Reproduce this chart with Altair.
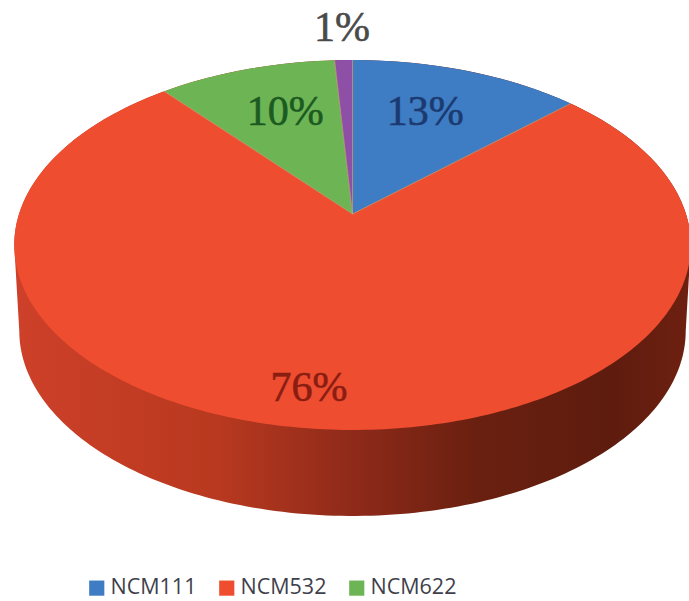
import numpy as np
import pandas as pd
import altair as alt

# Pie shares, clockwise from twelve o'clock
series = ["NCM111", "NCM532", "NCM622", "Other"]
shares = [13, 76, 10, 1]
labels = ["13%", "76%", "10%", "1%"]
colors = ["#3E7CC4", "#EE4D30", "#6DB554", "#8E4FA6"]
label_colors = ["#1B3A70", "#8A1D12", "#1C5A22", "#4A4A4A"]
legend_entries = ["NCM111", "NCM532", "NCM622"]

W, H = 689, 601

# Perspective view of the disc: far side is foreshortened
CX, CY = 352.5, 214.0
RX, RY, K = 333.5, 179.8, 0.1675


def project(theta, r=1.0, drop=0.0, shrink=1.0):
    u, v = r * np.sin(theta), r * np.cos(theta)
    w = 1 + K * v
    return CX + shrink * RX * u / w, CY - RY * v / w + drop


# Top face sectors
edges = np.cumsum([0] + shares) / sum(shares) * 2 * np.pi
rows = []
for name, a0, a1 in zip(series, edges[:-1], edges[1:]):
    thetas = np.linspace(a0, a1, max(3, int((a1 - a0) * 60)))
    rows.append({"series": name, "i": 0, "x": CX, "y": CY})
    for i, t in enumerate(thetas, start=1):
        x, y = project(t)
        rows.append({"series": name, "i": i, "x": x, "y": y})
faces = pd.DataFrame(rows)

# Thin seams running from the centre to the rim between sectors
seam_rows = []
for k, a in enumerate(edges[:-1]):
    x, y = project(a)
    seam_rows.append({"seam": k, "i": 0, "x": CX, "y": CY})
    seam_rows.append({"seam": k, "i": 1, "x": x, "y": y})
seams = pd.DataFrame(seam_rows)

# Side wall: upper rim between its widest points, then the near half of the lower rim
widest = np.arccos(-K)
t_back = np.linspace(-widest, widest, 90)
t_front = np.linspace(widest, 2 * np.pi - widest, 150)
xb, yb = project(t_back)
xf, yf = project(t_front, drop=86.0, shrink=0.985)
wall = pd.DataFrame({
    "i": np.arange(len(xb) + len(xf)),
    "x": np.r_[xb, xf],
    "y": np.r_[yb, yf],
})

# Value labels: radial position per slice, shifted into the slice
placement = {"13%": (None, 0.60, -11), "10%": (None, 0.60, -10),
             "1%": (None, 1.2, -6), "76%": (187.7, 0.84, 0)}
mids = (edges[:-1] + edges[1:]) / 2
lab_rows = []
for text, mid, col in zip(labels, mids, label_colors):
    ang, r, shift = placement[text]
    t = mid if ang is None else np.radians(ang)
    x, y = project(t, r)
    lab_rows.append({"text": text, "x": x, "y": y + shift, "col": col})
lab = pd.DataFrame(lab_rows)

x_enc = alt.X("x:Q", scale=alt.Scale(domain=[0, W], nice=False, zero=False), axis=None)
y_enc = alt.Y("y:Q", scale=alt.Scale(domain=[H, 0], nice=False, zero=False), axis=None)

wall_gradient = alt.Gradient(
    gradient="linear", x1=0, y1=0, x2=1, y2=0,
    stops=[
        alt.GradientStop(offset=0.0, color="#CE4029"),
        alt.GradientStop(offset=0.3, color="#B8391F"),
        alt.GradientStop(offset=0.5, color="#8F2A1A"),
        alt.GradientStop(offset=0.68, color="#6A2010"),
        alt.GradientStop(offset=0.88, color="#5E1C0E"),
        alt.GradientStop(offset=1.0, color="#6E2010"),
    ],
)

wall_layer = alt.Chart(wall).mark_line(fill=wall_gradient, stroke=None).encode(
    x=x_enc, y=y_enc, order="i:Q"
)

face_layer = alt.Chart(faces).mark_line(strokeWidth=0).encode(
    x=x_enc, y=y_enc, order="i:Q",
    fill=alt.Fill(
        "series:N",
        scale=alt.Scale(domain=series, range=colors),
        legend=alt.Legend(
            values=legend_entries, orient="none", legendX=86, legendY=577,
            direction="horizontal", columns=3, columnPadding=19, title=None,
            symbolType="square", symbolSize=230, symbolStrokeWidth=0,
            labelFont="Open Sans", labelFontSize=21.5, labelColor="#3F3F4C",
            labelOffset=3, symbolOpacity=1,
        ),
    ),
)

seam_layer = alt.Chart(seams).mark_line(strokeWidth=1, color="#C9A77C", opacity=0.7).encode(
    x=x_enc, y=y_enc, order="i:Q", detail="seam:N"
)

text_layer = alt.Chart(lab).mark_text(
    font="Liberation Serif", fontSize=42, baseline="middle", align="center", strokeWidth=0.6
).encode(
    x=x_enc, y=y_enc, text="text:N",
    color=alt.Color("col:N", scale=None),
    stroke=alt.Stroke("col:N", scale=None),
)

chart = alt.layer(wall_layer, face_layer, seam_layer, text_layer).properties(
    width=W, height=H, padding=0, autosize=alt.AutoSizeParams(type="none"),
    background="white",
).configure_view(stroke=None)

chart.save("out.html", embed_options={"renderer": "svg", "actions": False})
